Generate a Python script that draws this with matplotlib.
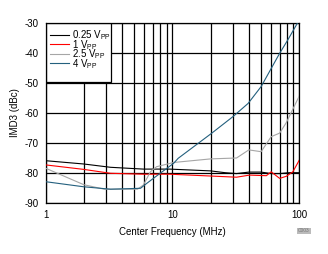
import matplotlib
matplotlib.use("Agg")
import matplotlib.pyplot as plt
from matplotlib.patches import Rectangle

plt.rcParams['font.family'] = ['Liberation Sans', 'DejaVu Sans']
plt.rcParams['mathtext.fontset'] = 'custom'
plt.rcParams['mathtext.rm'] = 'Liberation Sans'
plt.rcParams['axes.unicode_minus'] = False

# values (frequency in MHz, IMD3 in dBc)
f_025 = [1, 2, 3.25, 5.9, 9.5, 20, 26, 32, 40, 50, 60, 70, 83, 100]
imd_025 = [-76, -77.1, -78.2, -78.8, -78.8, -79.4, -80, -80.3, -79.8, -79.8, -80.3, -80.3, -80, -80]

f_1 = [1, 2, 3.25, 5.9, 9.5, 19.7, 32, 40.6, 55, 60, 70, 79, 89, 100]
imd_1 = [-77.4, -78.9, -80.2, -80.5, -80.5, -81.1, -81.5, -80.8, -81, -79.7, -81.9, -81.2, -79.7, -75.8]

f_25 = [1, 2, 2.9, 5.3, 5.9, 6.7, 7.5, 10.2, 20, 32, 40, 50, 60, 70, 79, 100]
imd_25 = [-78.5, -84, -85.5, -85.5, -84.1, -79.7, -78, -76.6, -75.4, -75.1, -72.4, -73, -68, -66.8, -63.3, -54.4]

f_4 = [1, 2, 3.25, 5.6, 6.3, 8.0, 10.2, 11.1, 20.3, 30, 39.5, 50, 70, 81, 98]
imd_4 = [-83, -84.7, -85.5, -85.2, -83.5, -80.2, -76.9, -75.2, -66.9, -61.3, -56.9, -51.3, -40.2, -35.8, -29.7]

labels = [r'0.25 V$_{\mathregular{PP}}$', r'1 V$_{\mathregular{PP}}$',
          r'2.5 V$_{\mathregular{PP}}$', r'4 V$_{\mathregular{PP}}$']
colors = ['black', '#ff0000', '#a6a6a6', '#24607e']

fig = plt.figure(figsize=(3.28, 2.54), dpi=100)
ax = fig.add_axes([0.139, 0.202, 0.7735, 0.7086])

series = [(f_025, imd_025), (f_1, imd_1), (f_25, imd_25), (f_4, imd_4)]
for (f, v), lab, c in zip(series, labels, colors):
    ax.plot(f, v, color=c, lw=0.8, label=lab, zorder=3)

ax.set_xscale('log')
ax.set_xlim(1, 100)
ax.set_ylim(-90, -30)
ax.set_yticks(range(-90, -29, 10))
ax.set_xticks([1, 10, 100])
ax.set_xticklabels(['1', '10', '100'])
ax.grid(True, which='both', axis='x', color='black', lw=0.9)
ax.grid(True, which='major', axis='y', color='black', lw=0.9)
ax.set_axisbelow(True)
ax.tick_params(which='both', length=0, labelsize=7, pad=5)
for s in ax.spines.values():
    s.set_linewidth(0.9)

ax.set_xlabel('Center Frequency (MHz)', fontsize=7, labelpad=5)
ax.set_ylabel('IMD3 (dBc)', fontsize=7, labelpad=3)

# legend box covering the grid
ax.add_patch(Rectangle((0, 0.67), 0.257, 0.33, transform=ax.transAxes,
                       facecolor='white', edgecolor='black', lw=0.9, zorder=2))
ax.legend(loc='upper left', bbox_to_anchor=(0.0, 0.995), frameon=False,
          fontsize=7, handlelength=1.9, handletextpad=0.3,
          labelspacing=-0.45, borderaxespad=0.2, borderpad=0.3)

fig.text(0.927, 0.091, 'C003', fontsize=3.5, color='#777777',
         ha='center', va='center',
         bbox=dict(facecolor='#bbbbbb', edgecolor='none', pad=0.6))

fig.savefig('out.png', dpi=100)
